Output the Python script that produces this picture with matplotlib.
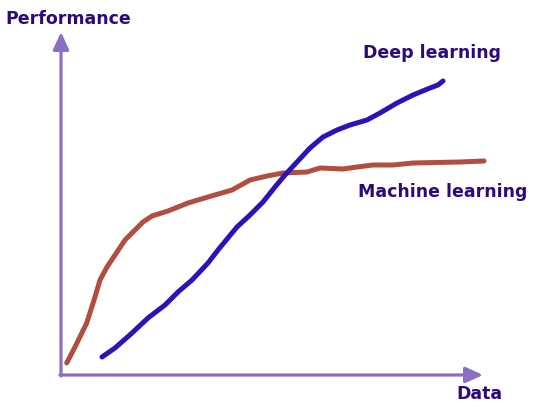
import matplotlib
matplotlib.use("Agg")
import matplotlib.pyplot as plt

# Data (x: amount of data, y: performance), origin at the axes corner
ml_data = [5.7, 14, 25.7, 34, 39, 46, 56, 64, 74, 82, 91, 107, 127, 147, 171, 189, 206, 222, 246, 259, 282, 296, 312, 332, 352, 399, 423]
ml_perf = [12, 28, 52, 78, 95, 108, 123, 135, 145, 153, 159, 164, 172, 178, 185, 195, 199, 202, 203, 207, 206, 208, 210, 210, 212, 213, 214]

dl_data = [41, 54, 71, 87, 104, 117, 131, 147, 157, 171, 176, 189, 202, 214, 224, 236, 249, 262, 276, 289, 306, 319, 336, 352, 369, 377, 382]
dl_perf = [18, 27, 42, 57, 70, 83, 95, 112, 125, 142, 148, 160, 173, 188, 200, 213, 227, 238, 245, 250, 255, 262, 272, 280, 287, 290, 294]

x_label = "Data"
y_label = "Performance"
dl_label = "Deep learning"
ml_label = "Machine learning"

AXIS_COLOR = "#8a6fc4"
TEXT_COLOR = "#2e0a78"
ML_COLOR = "#b04e40"
DL_COLOR = "#2a14b6"

fig = plt.figure(figsize=(5.35, 4.11), dpi=100)
ax = fig.add_axes([0, 0, 1, 1])
ax.set_xlim(-61, 474)
ax.set_ylim(-36, 375)
ax.axis("off")

arrow_kw = dict(arrowstyle="-|>,head_length=0.7,head_width=0.32", color=AXIS_COLOR,
                lw=2.3, mutation_scale=15, shrinkA=0, shrinkB=0)
ax.annotate("", xy=(0, 343), xytext=(0, -1), arrowprops=arrow_kw)
ax.annotate("", xy=(422, 0), xytext=(-1, 0), arrowprops=arrow_kw)

ax.plot(ml_data, ml_perf, color=ML_COLOR, lw=3.6, solid_capstyle="round", solid_joinstyle="round")
ax.plot(dl_data, dl_perf, color=DL_COLOR, lw=3.6, solid_capstyle="round", solid_joinstyle="round")

tkw = dict(color=TEXT_COLOR, fontweight="bold", family="DejaVu Sans", fontsize=12.5, va="center")
ax.text(-56, 356, y_label, ha="left", **tkw)
ax.text(418, -19, x_label, ha="center", **tkw)
ax.text(371, 322, dl_label, ha="center", **tkw)
ax.text(382, 183, ml_label, ha="center", **tkw)

fig.savefig("out.png", dpi=100)
